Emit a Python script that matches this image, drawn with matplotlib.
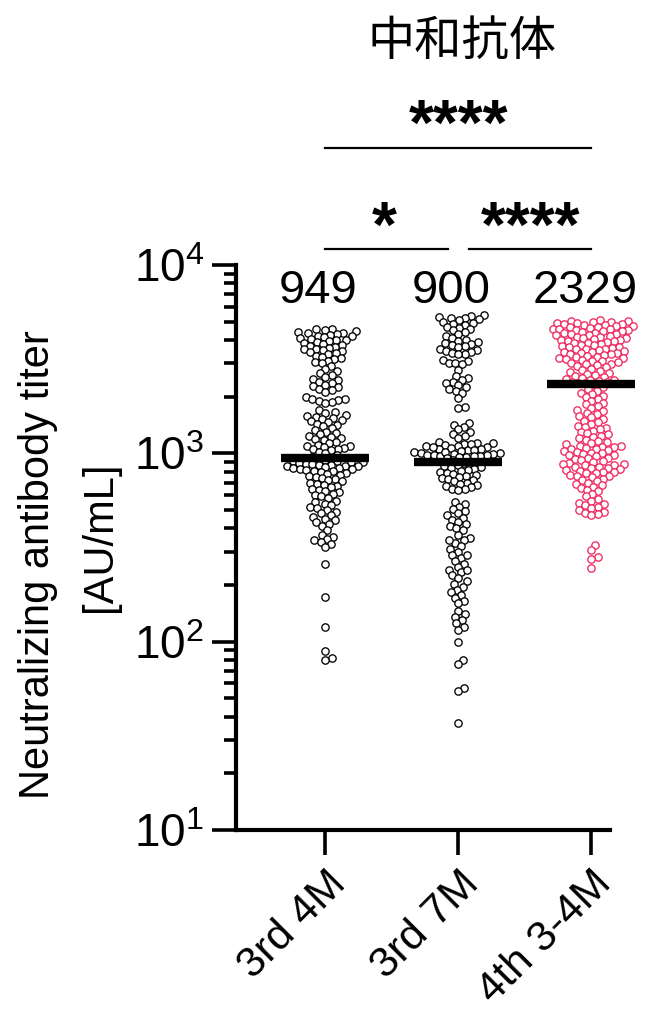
import numpy as np
import matplotlib
matplotlib.use("Agg")
import matplotlib.pyplot as plt
from matplotlib.ticker import FixedLocator, LogLocator, NullFormatter

plt.rcParams['font.family'] = ['Liberation Sans', 'DejaVu Sans']
plt.rcParams['mathtext.fontset'] = 'custom'
plt.rcParams['mathtext.rm'] = 'Liberation Sans'

# --- data ---
groups = ["3rd 4M", "3rd 7M", "4th 3-4M"]
medians = [949, 900, 2329]

titer_3rd_4m = [
    4600, 4550, 4500, 4460, 4420, 4380, 4340, 4300, 4260, 4220,
    4180, 4140, 4100, 4060, 4020, 3980, 3940, 3900, 3860, 3820, 3780,
    3730, 3680, 3640, 3600, 3560, 3520, 3480, 3440, 3400, 3360,
    3300, 3250, 3200, 3150, 3100, 3050, 3000,
    2900, 2800,
    2720, 2660, 2600, 2540, 2480, 2440, 2400, 2350, 2310, 2280, 2240, 2200, 2160, 2120,
    1980, 1950, 1940, 1920, 1900, 1880, 1860,
    1690, 1660, 1630, 1600, 1580, 1560, 1540, 1520, 1500, 1480, 1460, 1440,
    1420, 1390, 1360, 1330, 1300, 1280, 1260, 1240, 1220, 1200, 1190, 1180,
    1150, 1130, 1110, 1100, 1090, 1080, 1070, 1060, 1050, 1040,
    1020, 1000, 980, 960, 950, 940,
    920, 912, 905, 898, 895, 890, 883, 876, 870, 864, 860, 858, 852, 846, 840,
    834, 828, 822, 816, 810, 805, 800,
    790, 780, 770, 760, 750, 740, 730, 720, 710, 700, 690, 680, 670, 660, 650,
    640, 630, 620, 610, 600, 590, 580,
    560, 550, 540, 530, 520, 510, 500, 490, 480, 470, 460, 450,
    440, 430, 420, 412,
    390, 370, 360, 350, 345, 340, 330, 320,
    260, 173, 120, 89, 82, 80,
]

titer_3rd_7m = [
    5400, 5350, 5300, 5250, 5200, 5150, 5100, 5000, 4950,
    4880, 4800, 4700, 4650, 4600, 4500, 4400, 4300, 4200, 4100, 4000, 3950, 3900,
    3850, 3800, 3750, 3700, 3650, 3600, 3550, 3500, 3450, 3400, 3380, 3350,
    3120, 3080, 3030, 3000, 2970,
    2780,
    2580, 2520, 2460, 2400, 2350, 2300, 2240, 2190, 2140, 2100,
    1970, 1760, 1740,
    1450, 1420, 1380, 1340, 1300, 1270, 1240, 1210,
    1150, 1140, 1130, 1120, 1110, 1100, 1090, 1080, 1070, 1060, 1050, 1040, 1030,
    1020, 1010, 1000, 995, 990, 985, 980, 975, 970, 965, 960, 955,
    1125, 1075, 1045, 1015, 965,
    940, 920, 900, 890,
    870, 860, 850, 840, 830, 820, 810, 800, 790, 780, 770, 760, 750, 740, 730,
    720, 710, 700, 690, 680, 670, 660, 650, 645, 640,
    550, 535, 520, 506, 493, 480, 468, 456, 444, 432, 421, 410, 400, 392,
    370, 357, 345, 333, 321, 310, 299, 288, 278, 268, 259, 250, 241, 233, 225,
    217, 210, 203, 196, 189, 183, 177, 171, 165, 160, 345, 290, 240,
    145, 140, 135, 130, 125, 120, 116,
    100, 80, 76, 57, 55, 37,
]

titer_4th_34m = [
    5080, 5050, 5020, 4990, 4960, 4930, 4900, 4870, 4840, 4810, 4780, 4750,
    4720, 4690, 4660, 4630, 4600, 4570, 4550, 4530,
    4500, 4470, 4440, 4410, 4380, 4350, 4320, 4290, 4260, 4230, 4200, 4170,
    4140, 4110, 4080, 4050, 4020, 3990, 3960, 3930, 3900, 3870, 3840, 3810, 3780,
    3740, 3710, 3680, 3650, 3620, 3600, 3590, 3560, 3530, 3500, 3470, 3440, 3410,
    3400, 3380, 3350, 3320, 3290, 3260, 3230, 3200, 3200, 3170, 3140, 3110, 3080,
    3050, 3020, 2990, 2970,
    2940, 2900, 2860, 2820, 2780, 2740, 2700, 2670, 2640, 2610, 2580, 2550, 2520,
    2490, 2460, 2440, 2420, 2400, 2380, 2360,
    2350, 2300, 2250, 2200,
    2150, 2100, 2060, 2020, 1980, 1940, 1900, 1860, 1820, 1780, 1740, 1700, 1670,
    1640, 1610, 1580, 1550, 1520, 1490, 1460, 1430, 1400, 1380, 1360, 1340, 1320,
    1300, 1280, 1260, 1240, 1220, 1200, 1180,
    1160, 1145, 1130, 1115, 1100, 1100, 1085, 1080, 1070, 1060, 1055, 1040, 1025,
    1020, 1010, 1000, 995, 980, 980, 965, 950, 940, 935, 920, 905, 900, 890, 880,
    876, 870, 862, 850, 848, 840, 835, 822, 820, 810, 800, 796,
    790, 783, 770, 760, 758, 746, 734, 722, 710, 698, 686, 675, 664,
    653, 642,
    630, 610, 590, 575, 560, 545, 540, 530, 520, 510, 500, 490, 480, 478, 470,
    326, 305, 280, 274, 246,
]

series = [titer_3rd_4m, titer_3rd_7m, titer_4th_34m]
edge_colors = ["black", "black", "#F0285F"]


def swarm_offsets(ypix, diam):
    # simple beeswarm in pixel space: nearest free slot to the centre line
    steps = np.arange(1, 400) * 0.5
    cands = np.concatenate([[0.0], np.ravel(np.column_stack([steps, -steps]))])
    xs = np.zeros(len(ypix))
    px, py = [], []
    for i in np.argsort(ypix):
        y = ypix[i]
        ax_ = np.array(px)
        ay_ = np.array(py)
        near = np.abs(ay_ - y) < diam if len(ay_) else np.array([], dtype=bool)
        nx = ax_[near] if len(ax_) else ax_
        ny = ay_[near] if len(ay_) else ay_
        for c in cands:
            if np.all((nx - c) ** 2 + (ny - y) ** 2 >= diam ** 2 - 1e-6):
                xs[i] = c
                break
        px.append(xs[i])
        py.append(y)
    return xs


fig = plt.figure(figsize=(6.66, 10.11), dpi=100)
ax = fig.add_axes([236 / 666, 1 - 830 / 1011, (610 - 236) / 666, (830 - 265) / 1011])
ax.set_yscale("log")
ax.set_ylim(10, 10000)
ax.set_xlim(-0.67, 2.14)

diam = 6.4
px_per_unit = ax.transData.transform((1, 10))[0] - ax.transData.transform((0, 10))[0]
for i, vals in enumerate(series):
    vals = np.array(vals, dtype=float)
    ypix = ax.transData.transform(np.column_stack([np.full(len(vals), i), vals]))[:, 1]
    dx = swarm_offsets(ypix, diam)
    ax.scatter(i + dx / px_per_unit, vals, s=28, facecolors="white",
               edgecolors=edge_colors[i], linewidths=0.95, zorder=2, clip_on=False)

# median bars and labels
for i, m in enumerate(medians):
    ax.hlines(m, i - 0.33, i + 0.33, colors="black", linewidth=6, zorder=3, clip_on=False)
    ax.text(i - 0.05, 7300, f"{m}", ha="center", va="center", fontsize=34)

# axes styling
for side in ["top", "right"]:
    ax.spines[side].set_visible(False)
ax.spines["left"].set_linewidth(3)
ax.spines["bottom"].set_linewidth(3)
ax.yaxis.set_major_locator(FixedLocator([10, 100, 1000, 10000]))
ax.yaxis.set_minor_locator(LogLocator(base=10, subs=np.arange(2, 10)))
ax.yaxis.set_minor_formatter(NullFormatter())
ax.set_yticklabels([r"$\mathdefault{10^{1}}$", r"$\mathdefault{10^{2}}$",
                    r"$\mathdefault{10^{3}}$", r"$\mathdefault{10^{4}}$"])
ax.tick_params(axis="y", which="major", length=17, width=2.6, labelsize=33, pad=6)
ax.tick_params(axis="y", which="minor", length=9, width=2.6)
ax.set_xticks(range(len(groups)))
ax.set_xticklabels(groups, rotation=45, ha="right", rotation_mode="anchor", fontsize=31)
ax.tick_params(axis="x", length=18, width=2.6, pad=6)

# significance brackets
trans = ax.get_xaxis_transform()
ax.plot([0, 2], [1.207, 1.207], color="black", lw=1.6, transform=trans, clip_on=False)
ax.plot([0, 0.92], [1.028, 1.028], color="black", lw=1.6, transform=trans, clip_on=False)
ax.plot([1.08, 2], [1.028, 1.028], color="black", lw=1.6, transform=trans, clip_on=False)
ax.text(1.0, 1.243, "****", ha="center", va="center", fontsize=46, fontweight="bold", transform=trans)
ax.text(0.44, 1.063, "*", ha="center", va="center", fontsize=46, fontweight="bold", transform=trans)
ax.text(1.54, 1.063, "****", ha="center", va="center", fontsize=46, fontweight="bold", transform=trans)

fig.text(462 / 666, 1 - 42 / 1011, "中和抗体", ha="center", va="center", fontsize=34,
         family=["Noto Sans CJK JP", "DejaVu Sans"])
fig.text(38 / 666, 1 - 565 / 1011, "Neutralizing antibody titer", rotation=90,
         ha="center", va="center", fontsize=30)
fig.text(100 / 666, 1 - 537 / 1011, "[AU/mL]", rotation=90,
         ha="center", va="center", fontsize=30)

fig.savefig("out.png", dpi=100)
